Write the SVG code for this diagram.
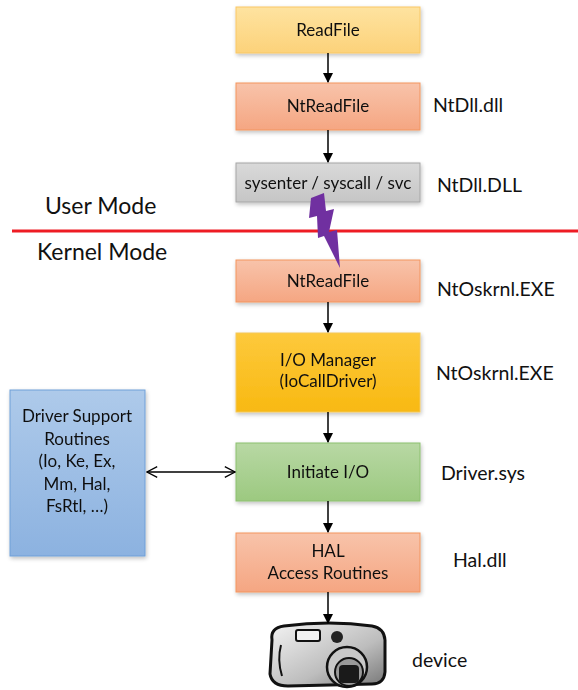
<svg xmlns="http://www.w3.org/2000/svg" width="578" height="690" viewBox="0 0 578 690">
  <defs>
    <linearGradient id="gYellow" x1="0" y1="0" x2="0" y2="1">
      <stop offset="0" stop-color="#fee3a0"/>
      <stop offset="1" stop-color="#fcd27a"/>
    </linearGradient>
    <linearGradient id="gSalmon" x1="0" y1="0" x2="0" y2="1">
      <stop offset="0" stop-color="#f8c3aa"/>
      <stop offset="1" stop-color="#f5a682"/>
    </linearGradient>
    <linearGradient id="gGray" x1="0" y1="0" x2="0" y2="1">
      <stop offset="0" stop-color="#d9d9d9"/>
      <stop offset="1" stop-color="#c6c6c6"/>
    </linearGradient>
    <linearGradient id="gGold" x1="0" y1="0" x2="0" y2="1">
      <stop offset="0" stop-color="#fdc93c"/>
      <stop offset="1" stop-color="#f8b912"/>
    </linearGradient>
    <linearGradient id="gGreen" x1="0" y1="0" x2="0" y2="1">
      <stop offset="0" stop-color="#b8d8a4"/>
      <stop offset="1" stop-color="#9cc980"/>
    </linearGradient>
    <linearGradient id="gBlue" x1="0" y1="0" x2="0" y2="1">
      <stop offset="0" stop-color="#aecaea"/>
      <stop offset="1" stop-color="#8cb2e0"/>
    </linearGradient>
    <linearGradient id="gBody" x1="0" y1="0" x2="1" y2="1">
      <stop offset="0" stop-color="#f4f4f4"/>
      <stop offset="0.6" stop-color="#bdbdbd"/>
      <stop offset="1" stop-color="#777"/>
    </linearGradient>
    <filter id="shadow" x="-10%" y="-10%" width="130%" height="140%">
      <feGaussianBlur in="SourceAlpha" stdDeviation="2"/>
      <feOffset dx="1" dy="2"/>
      <feComponentTransfer><feFuncA type="linear" slope="0.25"/></feComponentTransfer>
      <feMerge><feMergeNode/><feMergeNode in="SourceGraphic"/></feMerge>
    </filter>
    <marker id="arrow" viewBox="0 0 10 10" refX="9" refY="5" markerWidth="10" markerHeight="10" markerUnits="userSpaceOnUse" orient="auto-start-reverse">
      <path d="M0,0 L10,5 L0,10 z" fill="#000"/>
    </marker>
    <marker id="open" viewBox="0 0 10 10" refX="9.5" refY="5" markerWidth="12" markerHeight="12" markerUnits="userSpaceOnUse" orient="auto-start-reverse">
      <path d="M1,0.5 L9.5,5 L1,9.5" fill="none" stroke="#000" stroke-width="1"/>
    </marker>
  </defs>
  <style>
    text { font-family: "Lato", "Open Sans", "Liberation Sans", sans-serif; fill: #111; }
    .box { font-size: 17px; text-anchor: middle; }
    .side { font-size: 19.5px; }
    .mode { font-size: 23px; }
    .link { stroke: #000; stroke-width: 1.5; fill: none; marker-end: url(#arrow); }
  </style>

  <rect width="578" height="690" fill="#fff"/>

  <!-- mode boundary -->
  <line x1="12" y1="231" x2="578" y2="231" stroke="#ee1c24" stroke-width="3"/>
  <text class="mode" x="45" y="214">User Mode</text>
  <text class="mode" x="37" y="260">Kernel Mode</text>

  <g id="readfile" filter="url(#shadow)">
    <rect x="236" y="7" width="184" height="46" fill="url(#gYellow)" stroke="#f9c866" stroke-width="1"/>
    <text class="box" x="328" y="36">ReadFile</text>
  </g>

  <g id="ntreadfile-user" filter="url(#shadow)">
    <rect x="236" y="83" width="184" height="47" fill="url(#gSalmon)" stroke="#f3955f" stroke-width="1"/>
    <text class="box" x="328" y="112">NtReadFile</text>
  </g>
  <text class="side" x="433" y="112">NtDll.dll</text>

  <g id="syscall" filter="url(#shadow)">
    <rect x="236" y="163" width="184" height="39" fill="url(#gGray)" stroke="#a6a6a6" stroke-width="1"/>
    <text class="box" x="328" y="189">sysenter / syscall / svc</text>
  </g>
  <text class="side" x="437" y="192">NtDll.DLL</text>

  <g id="ntreadfile-kernel" filter="url(#shadow)">
    <rect x="236" y="260" width="184" height="42" fill="url(#gSalmon)" stroke="#f3955f" stroke-width="1"/>
    <text class="box" x="328" y="287">NtReadFile</text>
  </g>
  <text class="side" x="437" y="296">NtOskrnl.EXE</text>

  <g id="iomanager" filter="url(#shadow)">
    <rect x="236" y="333" width="184" height="79" fill="url(#gGold)" stroke="#f4c85a" stroke-width="1"/>
    <text class="box" x="328" y="366">I/O Manager</text>
    <text class="box" x="328" y="387">(IoCallDriver)</text>
  </g>
  <text class="side" x="436" y="380">NtOskrnl.EXE</text>

  <g id="initiate" filter="url(#shadow)">
    <rect x="236" y="443" width="184" height="58" fill="url(#gGreen)" stroke="#8cc06e" stroke-width="1"/>
    <text class="box" x="328" y="478">Initiate I/O</text>
  </g>
  <text class="side" x="441" y="480">Driver.sys</text>

  <g id="hal" filter="url(#shadow)">
    <rect x="236" y="533" width="184" height="59" fill="url(#gSalmon)" stroke="#f3955f" stroke-width="1"/>
    <text class="box" x="328" y="557">HAL</text>
    <text class="box" x="328" y="579">Access Routines</text>
  </g>
  <text class="side" x="453" y="567">Hal.dll</text>

  <g id="support" filter="url(#shadow)">
    <rect x="10" y="390" width="135" height="166" fill="url(#gBlue)" stroke="#6f9fd8" stroke-width="1"/>
    <text class="box" x="77" y="422">Driver Support</text>
    <text class="box" x="77" y="444.5">Routines</text>
    <text class="box" x="77" y="467">(Io, Ke, Ex,</text>
    <text class="box" x="77" y="489.5">Mm, Hal,</text>
    <text class="box" x="77" y="512">FsRtl, …)</text>
  </g>

  <g id="device">
    <!-- camera body -->
    <path d="M272,640 Q270,628 284,626 Q330,620 372,626 Q384,628 385,640 L385,672 Q384,684 372,684 L288,686 Q272,686 270,674 Z" fill="url(#gBody)" stroke="#111" stroke-width="3"/>
    <path d="M281,645 Q277,660 282,676" fill="none" stroke="#111" stroke-width="2"/>
    <rect x="296" y="630" width="24" height="11" rx="2" fill="#f2f2f2" stroke="#111" stroke-width="2"/>
    <circle cx="337" cy="637" r="6" fill="#222"/>
    <!-- lens -->
    <circle cx="347" cy="667" r="20" fill="#c8c8c8" stroke="#111" stroke-width="2.5"/>
    <circle cx="349" cy="672" r="14" fill="#9a9a9a" stroke="#111" stroke-width="2"/>
    <rect x="339" y="665" width="20" height="18" rx="4" fill="#1a1a1a"/>
  </g>
  <text class="side" x="412" y="667">device</text>

  <g id="connectors">
    <line class="link" x1="328" y1="53" x2="328" y2="82"/>
    <line class="link" x1="328" y1="130" x2="328" y2="162"/>
    <line class="link" x1="328" y1="302" x2="328" y2="332"/>
    <line class="link" x1="328" y1="412" x2="328" y2="442"/>
    <line class="link" x1="328" y1="501" x2="328" y2="532"/>
    <line class="link" x1="328" y1="592" x2="328" y2="623"/>
    <line x1="147" y1="472" x2="235" y2="472" stroke="#000" stroke-width="1.5" marker-start="url(#open)" marker-end="url(#open)"/>
    <!-- system call transition -->
    <path d="M311,198 L324,193 L326,211 L334,209 L329,232 L337,230 L340,268 L324,236 L318,238 L317,216 L309,218 Z" fill="#7030a0"/>
  </g>
</svg>
